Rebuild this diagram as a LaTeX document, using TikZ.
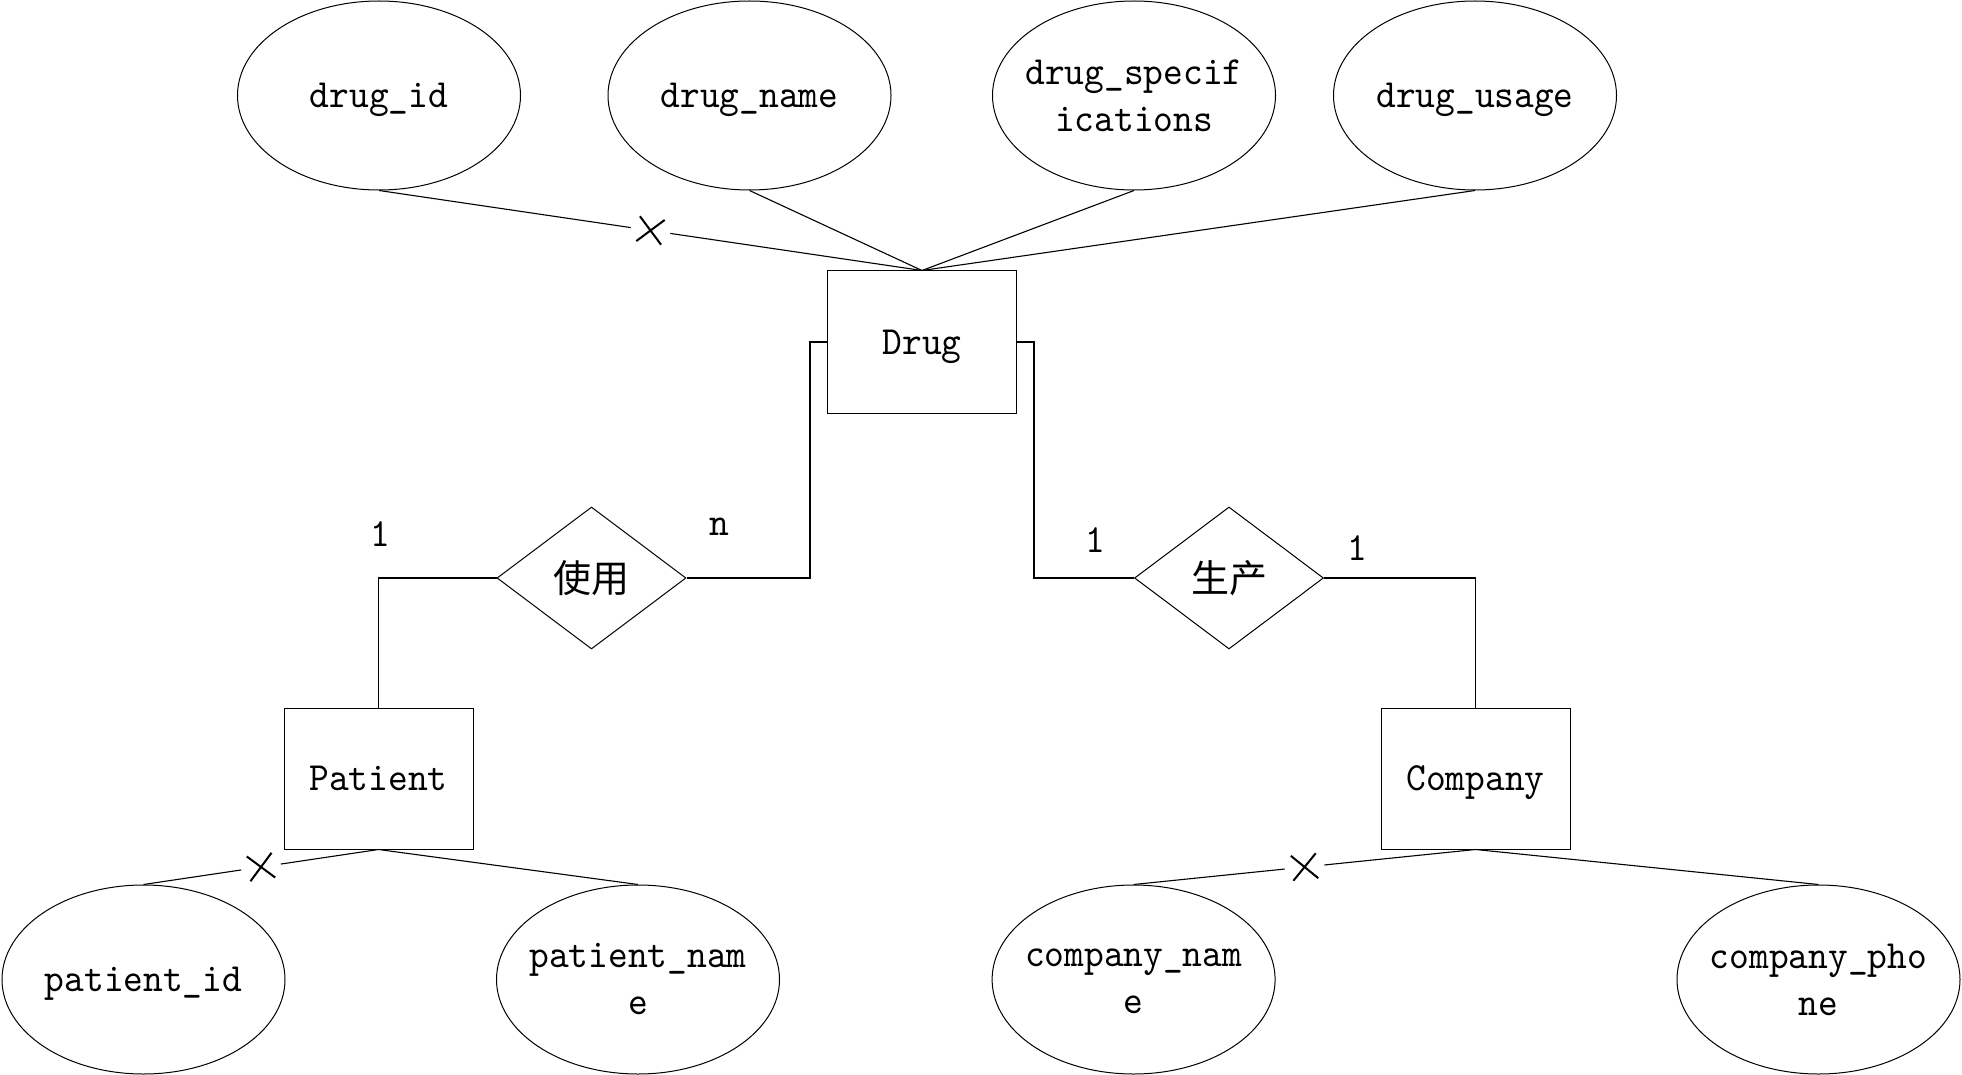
\documentclass[tikz,border=0pt]{standalone}
\usepackage{fontspec}
\setmainfont{lmmono10-regular.otf}[FakeStretch=0.94]
\newfontfamily\cjk{Noto Sans CJK SC}
\usetikzlibrary{shapes.geometric,shapes.misc}
\begin{document}
\begin{tikzpicture}[x=1pt,y=-1pt,
  every node/.style={font=\fontsize{40}{47}\selectfont, inner sep=0pt},
  sl/.style={text height=31pt, text depth=7pt},
  ln/.style={line width=1.1pt, black},
  attr/.style={ellipse, draw, line width=1pt, minimum width=283, minimum height=189},
  ent/.style={rectangle, draw, line width=1pt, minimum width=189, minimum height=141, sl},
  rel/.style={diamond, draw, line width=1pt, minimum width=189, minimum height=142, font=\cjk\fontsize{38}{40}\selectfont},
  gap/.style={circle, fill=white, minimum size=40},
  xmark/.style={cross out, draw, line width=2pt, minimum size=23, sloped},
]
\useasboundingbox (0,0) rectangle (1962,1075);

% attributes of Drug
\node[attr, label={[sl]center:{drug\_id}}] (drugid) at (379,95.5) {};
\node[attr, label={[sl]center:{drug\_name}}] (drugname) at (749.5,95.5) {};
\node[attr, label={[align=center]center:{drug\_specif\\ications}}] (drugspec) at (1134,95.5) {};
\node[attr, label={[sl]center:{drug\_usage}}] (drugusage) at (1475,95.5) {};

% entities
\node[ent, minimum height=142] (drug) at (922,342) {Drug};
\node[ent] (patient) at (378.5,778.5) {Patient};
\node[ent] (company) at (1475.5,778.5) {Company};

% relationships
\node[rel] (use) at (591.5,578) {使用};
\node[rel] (prod) at (1229,578) {生产};

% attributes of Patient and Company
\node[attr, label={[sl]center:{patient\_id}}] (patid) at (143.5,979.5) {};
\node[attr, label={[align=center]center:{patient\_nam\\e}}] (patname) at (638,979.5) {};
\node[attr, label={[align=center, yshift=-2pt]center:{company\_nam\\e}}] (compname) at (1133.6,979.5) {};
\node[attr, label={[align=center]center:{company\_pho\\ne}}] (compphone) at (1818.5,979.5) {};

% cardinalities
\node (c1) at (380,534.5) {1};
\node (cn) at (719,527) {n};
\node (c2) at (1095.7,540) {1};
\node (c3) at (1357.8,548) {1};

% attribute links
\draw[ln] (drugid.south) -- node[gap]{} node[xmark]{} (drug.north);
\draw[ln] (drugname.south) -- (drug.north);
\draw[ln] (drugspec.south) -- (drug.north);
\draw[ln] (drugusage.south) -- (drug.north);

\draw[ln] (patient.south) -- node[gap]{} node[xmark]{} (patid.north);
\draw[ln] (patient.south) -- (patname.north);
\draw[ln] (company.south) -- node[gap]{} node[xmark]{} (compname.north);
\draw[ln] (company.south) -- (compphone.north);

% relationship links
\draw[ln] (drug.west) -- ++(-17,0) |- (use.east);
\draw[ln] (use.west) -| (patient.north);
\draw[ln] (drug.east) -- ++(17,0) |- (prod.west);
\draw[ln] (prod.east) -| (company.north);
\end{tikzpicture}
\end{document}
